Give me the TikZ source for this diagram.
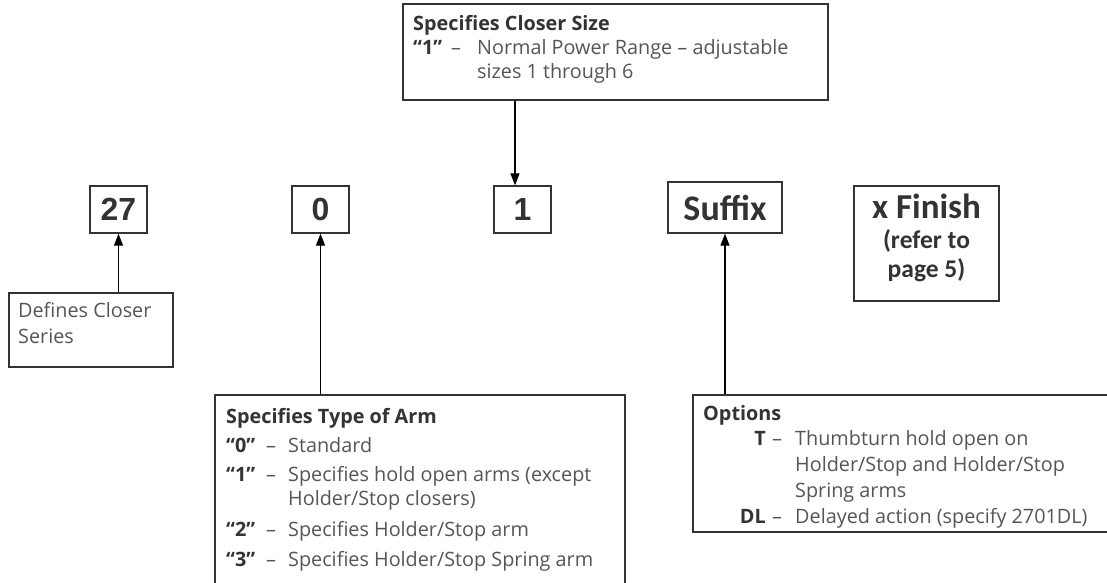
\documentclass[tikz,border=0pt]{standalone}
\usepackage{fontspec}
\setmainfont{Open Sans}
\newfontfamily\arialfont{Liberation Sans}
\newfontfamily\califont{Carlito}
\usetikzlibrary{arrows.meta}
\definecolor{txt}{HTML}{555555}
\definecolor{lbl}{HTML}{333333}
\definecolor{edge}{HTML}{333333}
\newcommand\bodyfs{\fontsize{19.8}{23}\selectfont}
\begin{document}
\begin{tikzpicture}[x=1pt,y=-1pt,
  frame/.style={draw=edge, line width=1.3pt, inner sep=0pt, rectangle},
  bignum/.style={frame, minimum width=57pt, minimum height=47pt, font=\arialfont\bfseries\fontsize{32}{36}\selectfont, text=lbl},
  calbox/.style={frame, font=\califont\bfseries, text=lbl},
  body/.style={anchor=base west, inner sep=0pt, text=txt, font=\bodyfs},
  heading/.style={anchor=base west, inner sep=0pt, text=lbl, font=\bodyfs\bfseries},
  itemlabel/.style={anchor=base west, inner sep=0pt, text=lbl, font=\bodyfs\bfseries},
  itemlabelr/.style={anchor=base east, inner sep=0pt, text=lbl, font=\bodyfs\bfseries},
  arr/.style={draw=black, line width=1.2pt, -{Triangle[length=12pt,width=9pt]}}]
\useasboundingbox (0,0) rectangle (1107,582);
\clip (0,0) rectangle (1107,582);
\fill[white] (0,0) rectangle (1107,582);

% code boxes
\node[bignum] (n27) at (118.5,209.5) {27};
\node[bignum] (n0) at (320.5,209.5) {0};
\node[bignum] (n1) at (522.5,209.5) {1};
\node[calbox, minimum width=114pt, minimum height=51pt, font=\califont\bfseries\fontsize{36}{40}\selectfont] (suffix) at (725,207.5) {Suffix};
\node[frame, minimum width=145pt, minimum height=115pt] (finish) at (926.5,243.5) {};
\node[anchor=base, inner sep=0pt, text=lbl, font=\califont\bfseries\fontsize{35}{38}\selectfont] (finishA) at (926.5,218) {x Finish};
\node[anchor=base, inner sep=0pt, text=lbl, font=\califont\bfseries\fontsize{25.5}{30}\selectfont] (finishB) at (926.5,248) {(refer to};
\node[anchor=base, inner sep=0pt, text=lbl, font=\califont\bfseries\fontsize{25.5}{30}\selectfont] (finishC) at (926.5,277) {page 5)};

% description boxes
\node[frame, minimum width=425pt, minimum height=96pt] (sizebox) at (615.5,52) {};
\node[frame, minimum width=164pt, minimum height=74pt] (defines) at (91,330) {};
\node[frame, minimum width=410pt, minimum height=250pt] (arm) at (420,520) {};
\node[frame, minimum width=422pt, minimum height=137pt] (options) at (904,463.5) {};

% top box text
\node[heading] (s0) at (413,30) {Specifies Closer Size};
\node[itemlabel] (s1l) at (413,54) {“1”};
\node[body] (s1d) at (451,54) {–};
\node[body] (s1t) at (477,54) {Normal Power Range – adjustable};
\node[body] (s1u) at (477,78) {sizes 1 through 6};

% defines text
\node[body] (d1) at (18,317) {Defines Closer};
\node[body] (d2) at (18,343) {Series};

% arm text
\node[heading] (a0) at (226,423) {Specifies Type of Arm};
\node[itemlabel] (a1l) at (226,452) {“0”};
\node[body] (a1d) at (266,452) {–};
\node[body] (a1t) at (288,452) {Standard};
\node[itemlabel] (a2l) at (226,481) {“1”};
\node[body] (a2d) at (266,481) {–};
\node[body] (a2t) at (288,481) {Specifies hold open arms (except};
\node[body] (a2u) at (288,505) {Holder/Stop closers)};
\node[itemlabel] (a3l) at (226,536) {“2”};
\node[body] (a3d) at (266,536) {–};
\node[body] (a3t) at (288,536) {Specifies Holder/Stop arm};
\node[itemlabel] (a4l) at (226,566) {“3”};
\node[body] (a4d) at (266,566) {–};
\node[body] (a4t) at (288,566) {Specifies Holder/Stop Spring arm};

% options text
\node[heading] (o0) at (703,420) {Options};
\node[itemlabelr] (o1l) at (766,445) {T};
\node[body] (o1d) at (772,445) {–};
\node[body] (o1t) at (795,445) {Thumbturn hold open on};
\node[body] (o1u) at (795,471) {Holder/Stop and Holder/Stop};
\node[body] (o1v) at (795,497) {Spring arms};
\node[itemlabelr] (o2l) at (766,523) {DL};
\node[body] (o2d) at (772,523) {–};
\node[body] (o2t) at (795,523) {Delayed action (specify 2701DL)};

% connectors
\coordinate (c1) at (515,0);
\draw[arr] (sizebox.south -| c1) -- (c1 |- n1.north);
\draw[arr] (defines.north -| n27.south) -- (n27.south);
\draw[arr] (arm.north -| n0.south) -- (n0.south);
\draw[arr] (options.north -| suffix.south) -- (suffix.south);
\end{tikzpicture}
\end{document}
